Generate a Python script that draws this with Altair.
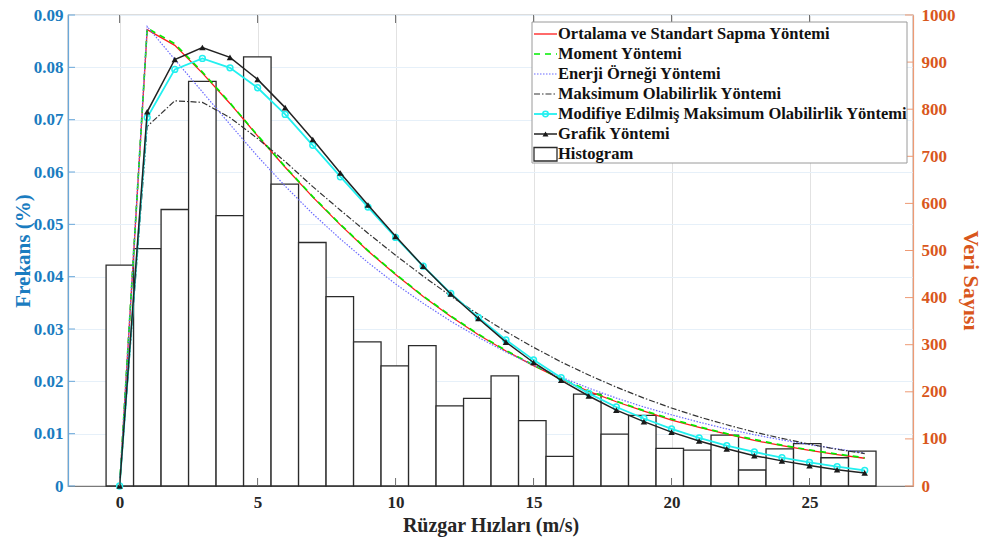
import altair as alt
import numpy as np
import pandas as pd

# Wind speed classes (m/s) at which the Weibull curves are evaluated
speeds = list(range(28))

# Weibull probability density, one series per estimation method
ortalama = [0, 0.0872, 0.0842, 0.0789, 0.0731, 0.0669, 0.0609, 0.0552, 0.0499, 0.0449,
            0.0404, 0.0362, 0.0324, 0.0289, 0.0258, 0.0230, 0.0204, 0.0181, 0.0161, 0.0143,
            0.0126, 0.0112, 0.0099, 0.0087, 0.0077, 0.0068, 0.0060, 0.0053]
moment = [0, 0.0875, 0.0845, 0.0791, 0.0732, 0.0670, 0.0610, 0.0553, 0.0500, 0.0450,
          0.0405, 0.0363, 0.0325, 0.0290, 0.0259, 0.0231, 0.0205, 0.0182, 0.0162, 0.0144,
          0.0128, 0.0113, 0.0100, 0.0089, 0.0078, 0.0069, 0.0061, 0.0054]
enerji = [0, 0.0878, 0.0815, 0.0753, 0.0691, 0.0630, 0.0573, 0.0520, 0.0472, 0.0427,
          0.0386, 0.0349, 0.0315, 0.0284, 0.0256, 0.0231, 0.0208, 0.0187, 0.0168, 0.0151,
          0.0136, 0.0122, 0.0109, 0.0098, 0.0088, 0.0079, 0.0071, 0.0063]
maksimum = [0, 0.0687, 0.0736, 0.0733, 0.0704, 0.0664, 0.0620, 0.0572, 0.0527, 0.0483,
            0.0441, 0.0401, 0.0363, 0.0328, 0.0295, 0.0265, 0.0237, 0.0212, 0.0189, 0.0168,
            0.0149, 0.0132, 0.0117, 0.0103, 0.0091, 0.0080, 0.0070, 0.0062]
modifiye = [0, 0.0704, 0.0796, 0.0817, 0.0799, 0.0761, 0.0710, 0.0651, 0.0591, 0.0533,
            0.0475, 0.0420, 0.0368, 0.0322, 0.0279, 0.0241, 0.0207, 0.0177, 0.0151, 0.0129,
            0.0109, 0.0092, 0.0077, 0.0065, 0.0054, 0.0045, 0.0037, 0.0030]
grafik = [0, 0.0715, 0.0815, 0.0838, 0.0819, 0.0777, 0.0723, 0.0662, 0.0598, 0.0537,
          0.0477, 0.0420, 0.0367, 0.0320, 0.0275, 0.0236, 0.0202, 0.0172, 0.0145, 0.0123,
          0.0103, 0.0086, 0.0071, 0.0058, 0.0048, 0.0039, 0.0031, 0.0025]

# Histogram of observations (count per bin, right axis)
hist_counts = [469, 504, 587, 859, 574, 911, 641, 517, 402, 306, 255, 298, 170, 186,
               234, 139, 63, 195, 110, 150, 80, 76, 108, 34, 79, 90, 60, 74]
bin_edges = np.linspace(-0.49, 27.41, len(hist_counts) + 1)

# Axis tick values
x_ticks = [0, 5, 10, 15, 20, 25]
freq_ticks = [0, 0.01, 0.02, 0.03, 0.04, 0.05, 0.06, 0.07, 0.08, 0.09]
count_ticks = [0, 100, 200, 300, 400, 500, 600, 700, 800, 900, 1000]

W, H = 845, 471
FONT = "Liberation Serif"
BLUE = "#1a7cc0"
ORANGE = "#d9571c"

x_scale = alt.Scale(domain=[-1.87, 28.75], nice=False, zero=False)
f_scale = alt.Scale(domain=[0, 0.09], nice=False, zero=True)
c_scale = alt.Scale(domain=[0, 1000], nice=False, zero=True)

hist_df = pd.DataFrame({
    "lo": bin_edges[:-1],
    "hi": bin_edges[1:],
    "count": hist_counts,
    "base": 0,
})

series = [
    ("Ortalama ve Standart Sapma Yöntemi", ortalama,
     dict(color="#ff1a1a", strokeWidth=1.3)),
    ("Moment Yöntemi", moment,
     dict(color="#00ee00", strokeWidth=1.7, strokeDash=[6, 5])),
    ("Enerji Örneği Yöntemi", enerji,
     dict(color="#6a6aff", strokeWidth=1.2, strokeDash=[1.5, 1.5])),
    ("Maksimum Olabilirlik Yöntemi", maksimum,
     dict(color="#333333", strokeWidth=1.2, strokeDash=[6, 2, 1.5, 2])),
    ("Modifiye Edilmiş Maksimum Olabilirlik Yöntemi", modifiye,
     dict(color="#22f0f0", strokeWidth=1.8)),
    ("Grafik Yöntemi", grafik,
     dict(color="#222222", strokeWidth=1.5)),
]

x_axis = alt.Axis(
    values=x_ticks, format="d", title="Rüzgar Hızları (m/s)",
    labelFont=FONT, labelFontSize=17, labelFontWeight="bold", labelColor="#262626",
    titleFont=FONT, titleFontSize=20, titleFontWeight="bold", titleColor="#262626",
    grid=True, gridColor="#e2e2e2", gridWidth=1,
    domainColor="#7a7a7a", domainWidth=1.2, ticks=False,
    labelPadding=8, titlePadding=5,
)
left_axis = alt.Axis(
    orient="left", values=freq_ticks, format=".2~f", title="Frekans (%)",
    labelFont=FONT, labelFontSize=17, labelFontWeight="bold", labelColor=BLUE,
    titleFont=FONT, titleFontSize=21, titleFontWeight="bold", titleColor=BLUE,
    grid=True, gridColor="#e6f0f9", gridWidth=1,
    domainColor="#6aa8da", domainWidth=1.2, ticks=False,
    labelPadding=5, titlePadding=0,
)
right_axis = alt.Axis(
    orient="right", values=count_ticks, format="d", title="Veri Sayısı",
    labelFont=FONT, labelFontSize=17, labelFontWeight="bold", labelColor=ORANGE,
    titleFont=FONT, titleFontSize=22, titleFontWeight="bold", titleColor=ORANGE,
    grid=False, domainColor="#ee9a74", domainWidth=1.2, ticks=False,
    labelPadding=8, titlePadding=3, titleY=265,
)

layers = []

# Histogram bars on the count axis
layers.append(
    alt.Chart(hist_df).mark_rect(fill="white", stroke="#2b2b2b", strokeWidth=1.3).encode(
        x=alt.X("lo:Q", scale=x_scale, axis=x_axis),
        x2="hi:Q",
        y=alt.Y("count:Q", scale=c_scale, axis=right_axis),
        y2="base:Q",
    )
)

# Fitted density curves on the frequency axis
for i, (name, vals, style) in enumerate(series):
    df = pd.DataFrame({"v": speeds, "f": vals})
    layers.append(
        alt.Chart(df).mark_line(**style).encode(
            x=alt.X("v:Q", scale=x_scale),
            y=alt.Y("f:Q", scale=f_scale, axis=left_axis if i == 0 else None),
        )
    )
    if name.startswith("Modifiye"):
        layers.append(
            alt.Chart(df).mark_point(shape="circle", filled=False, color="#22f0f0",
                                     size=34, strokeWidth=1.5, opacity=1).encode(
                x=alt.X("v:Q", scale=x_scale),
                y=alt.Y("f:Q", scale=f_scale, axis=None),
            )
        )
    if name.startswith("Grafik"):
        layers.append(
            alt.Chart(df).mark_point(shape="triangle-up", filled=True, color="#1a1a1a",
                                     size=42, opacity=1).encode(
                x=alt.X("v:Q", scale=x_scale),
                y=alt.Y("f:Q", scale=f_scale, axis=None),
            )
        )

# Inward tick marks on all four sides
xt = pd.DataFrame({"t": x_ticks})
layers.append(alt.Chart(xt).mark_rule(color="#6e6e6e", strokeWidth=1).encode(
    x=alt.X("t:Q", scale=x_scale), y=alt.value(H), y2=alt.value(H - 8)))
layers.append(alt.Chart(xt).mark_rule(color="#6e6e6e", strokeWidth=1).encode(
    x=alt.X("t:Q", scale=x_scale), y=alt.value(0), y2=alt.value(8)))
ft = pd.DataFrame({"t": freq_ticks})
layers.append(alt.Chart(ft).mark_rule(color="#6aa8da", strokeWidth=1).encode(
    y=alt.Y("t:Q", scale=f_scale, axis=None), x=alt.value(0), x2=alt.value(7)))
ct = pd.DataFrame({"t": count_ticks})
layers.append(alt.Chart(ct).mark_rule(color="#ee9a74", strokeWidth=1).encode(
    y=alt.Y("t:Q", scale=c_scale, axis=None), x=alt.value(W - 8), x2=alt.value(W)))

# Legend box in the upper right corner
names = [s[0] for s in series] + ["Histogram"]
row_scale = alt.Scale(domain=[0, len(names) - 1], range=[19, 139])
one = pd.DataFrame({"k": [0]})
layers.append(alt.Chart(one).mark_rect(fill="white", stroke="#9a9a9a", strokeWidth=1).encode(
    x=alt.value(464), x2=alt.value(839), y=alt.value(7), y2=alt.value(148)))
for i, (name, _, style) in enumerate(series):
    r = pd.DataFrame({"row": [i]})
    layers.append(alt.Chart(r).mark_rule(**style).encode(
        x=alt.value(466), x2=alt.value(489),
        y=alt.Y("row:Q", scale=row_scale, axis=None)))
    if name.startswith("Modifiye"):
        layers.append(alt.Chart(r).mark_point(shape="circle", filled=False, color="#22f0f0",
                                              size=30, strokeWidth=1.5, opacity=1).encode(
            x=alt.value(477.5), y=alt.Y("row:Q", scale=row_scale, axis=None)))
    if name.startswith("Grafik"):
        layers.append(alt.Chart(r).mark_point(shape="triangle-up", filled=True, color="#1a1a1a",
                                              size=36, opacity=1).encode(
            x=alt.value(477.5), y=alt.Y("row:Q", scale=row_scale, axis=None)))
layers.append(alt.Chart(pd.DataFrame({"row": [6]})).mark_rect(
    fill="white", stroke="#2b2b2b", strokeWidth=1.3).encode(
    x=alt.value(466), x2=alt.value(489), y=alt.value(132.5), y2=alt.value(146)))
leg_df = pd.DataFrame({"name": names, "row": list(range(len(names)))})
layers.append(alt.Chart(leg_df).mark_text(
    align="left", baseline="middle", font=FONT, fontSize=16.5, fontWeight="bold",
    color="#111111").encode(
    x=alt.value(490), y=alt.Y("row:Q", scale=row_scale, axis=None), text="name:N"))

chart = alt.layer(*layers).resolve_scale(y="independent").properties(
    width=W, height=H,
    padding={"left": 68, "top": 15, "right": 71, "bottom": 56},
    autosize=alt.AutoSizeParams(type="none"),
    background="white",
).configure_view(stroke="#7a7a7a", strokeWidth=1.2)

chart.save("out.html", embed_options={"renderer": "svg", "actions": False})
